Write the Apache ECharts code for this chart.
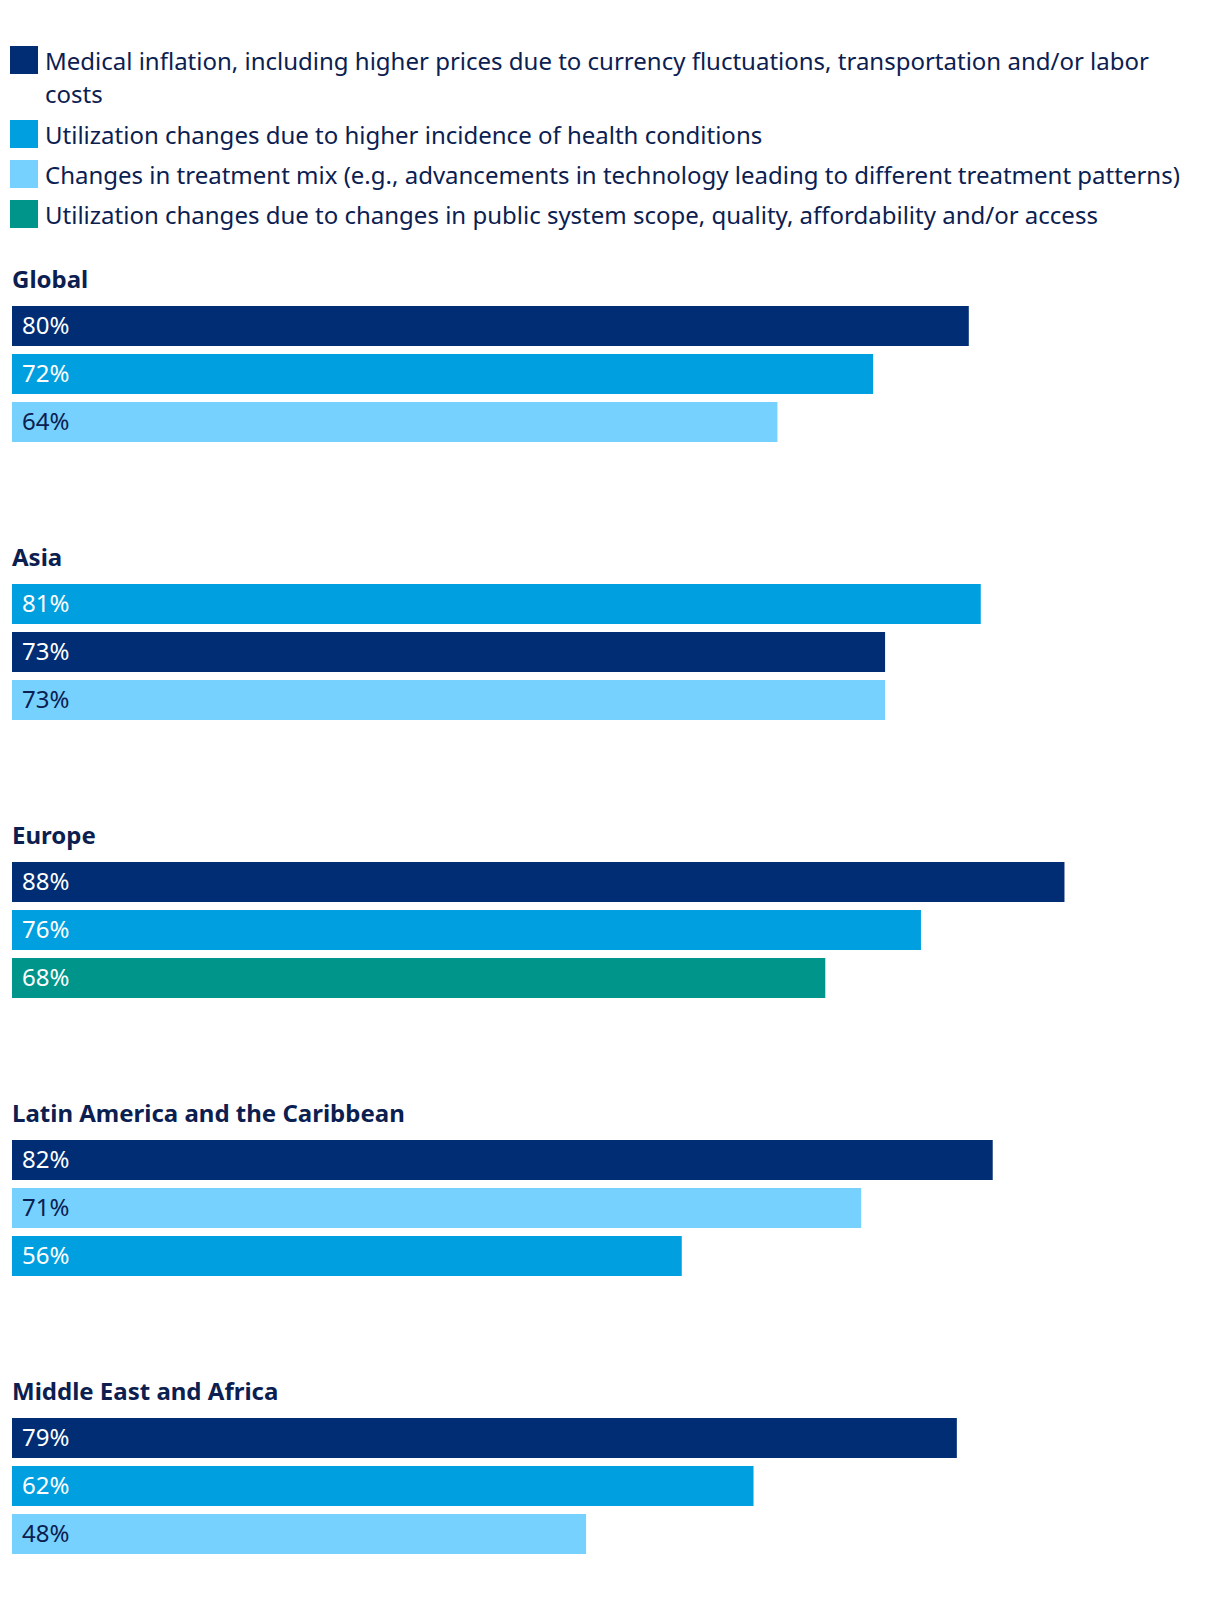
<!DOCTYPE html>
<html>
<head>
<meta charset="utf-8">
<script src="https://cdn.jsdelivr.net/npm/echarts@6/dist/echarts.min.js"></script>
<style>
html,body{margin:0;padding:0;background:#fff;}
#chart{width:1220px;height:1612px;}
</style>
</head>
<body>
<div id="chart"></div>
<script>
// ---- data ----
const factorNames = [
  'Medical inflation, including higher prices due to currency fluctuations, transportation and/or labor costs',
  'Utilization changes due to higher incidence of health conditions',
  'Changes in treatment mix (e.g., advancements in technology leading to different treatment patterns)',
  'Utilization changes due to changes in public system scope, quality, affordability and/or access'
];
const regions = ['Global', 'Asia', 'Europe', 'Latin America and the Caribbean', 'Middle East and Africa'];
// factor index per bar (top to bottom) in each region
const globalFactors = [0, 1, 2];
const globalValues  = [80, 72, 64];
const asiaFactors   = [1, 0, 2];
const asiaValues    = [81, 73, 73];
const europeFactors = [0, 1, 3];
const europeValues  = [88, 76, 68];
const latamFactors  = [0, 2, 1];
const latamValues   = [82, 71, 56];
const meaFactors    = [0, 1, 2];
const meaValues     = [79, 62, 48];

const regionFactors = [globalFactors, asiaFactors, europeFactors, latamFactors, meaFactors];
const regionValues  = [globalValues, asiaValues, europeValues, latamValues, meaValues];

// ---- style ----
const factorColors = ['#002D74', '#009FE0', '#76D1FF', '#00958A'];
const labelColors  = ['#ffffff', '#ffffff', '#0B2050', '#ffffff'];
const textColor = '#0B2050';
const FONT = '"Noto Sans", "Open Sans", sans-serif';
const LEGEND_FONT_SIZE = 24;
const LEGEND_TEXT_WIDTH = 1150;

// word wrap by measured width
const measureCtx = document.createElement('canvas').getContext('2d');
measureCtx.font = LEGEND_FONT_SIZE + 'px ' + FONT;
function wrapWords(text, maxW) {
  const words = text.split(' ');
  const lines = [];
  let cur = '';
  words.forEach(w => {
    const test = cur ? cur + ' ' + w : w;
    if (cur && measureCtx.measureText(test).width > maxW) { lines.push(cur); cur = w; }
    else cur = test;
  });
  if (cur) lines.push(cur);
  return lines;
}

const gridTop0 = 302, sectionPitch = 278, gridH = 144;

const grid = [], xAxis = [], yAxis = [], series = [], title = [];
regions.forEach((reg, i) => {
  const top = gridTop0 + i * sectionPitch;
  grid.push({left: 12, right: 12, top: top, height: gridH});
  xAxis.push({gridIndex: i, type: 'value', min: 0, max: 100, show: false});
  yAxis.push({gridIndex: i, type: 'category', inverse: true, show: false,
              data: regionFactors[i].map(k => factorNames[k])});
  title.push({text: reg, left: 12, top: top - 36, padding: 0,
              textStyle: {fontFamily: FONT, fontSize: 24, fontWeight: 'bold', color: textColor}});
  regionFactors[i].forEach((k, j) => {
    series.push({
      name: factorNames[k], type: 'bar', xAxisIndex: i, yAxisIndex: i,
      barWidth: 40, barGap: '-100%',
      data: regionValues[i].map((v, jj) => jj === j ? v : '-'),
      itemStyle: {color: factorColors[k]},
      label: {show: true, position: 'insideLeft', distance: 10, offset: [0, -2], formatter: '{c}%',
              fontFamily: FONT, fontSize: 24, color: labelColors[k]},
      emphasis: {disabled: true},
      animation: false
    });
  });
});

const richBase = {fontFamily: FONT, fontSize: LEGEND_FONT_SIZE, color: textColor};

const chart = echarts.init(document.getElementById('chart'), null, {renderer: 'svg'});
chart.setOption({
  backgroundColor: '#ffffff',
  animation: false,
  title: title,
  legend: {
    orient: 'vertical', left: 10, top: 10, padding: 0,
    icon: 'rect', itemWidth: 28, itemHeight: 28, itemGap: 8,
    selectedMode: false,
    data: factorNames,
    formatter: function (name) {
      const lines = wrapWords(name, LEGEND_TEXT_WIDTH);
      if (lines.length === 1) return name;
      // first line stays level with the colour square, further lines flow below it
      const out = [];
      for (let n = 1; n < lines.length; n++) out.push('{p| }');
      out.push('{t|' + lines[0] + '}');
      for (let n = 1; n < lines.length; n++) out.push('{b|' + lines[n] + '}');
      return out.join('\n');
    },
    textStyle: {fontFamily: FONT, fontSize: LEGEND_FONT_SIZE, color: textColor, lineHeight: 32,
      padding: [0, 0, 0, 2],
      rich: {
        p: Object.assign({lineHeight: 34}, richBase),
        t: Object.assign({lineHeight: 32}, richBase),
        b: Object.assign({lineHeight: 34}, richBase)
      }
    }
  },
  grid: grid, xAxis: xAxis, yAxis: yAxis, series: series
});
</script>
</body>
</html>
